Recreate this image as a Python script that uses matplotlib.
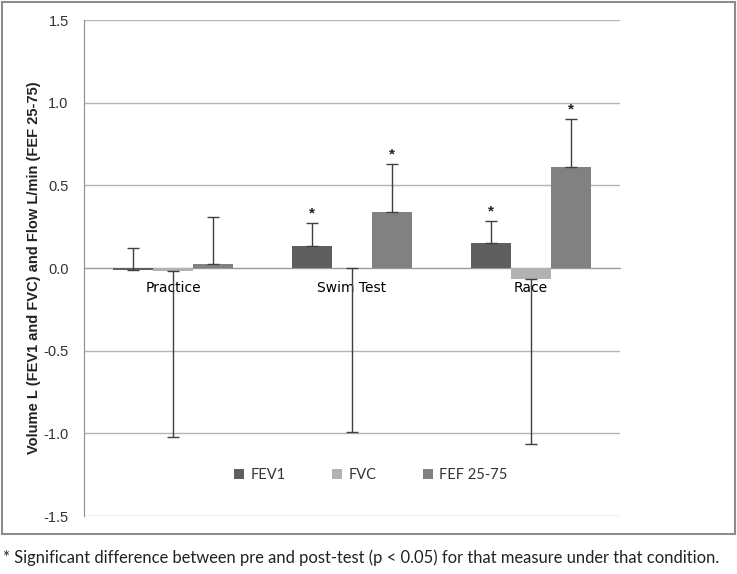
import matplotlib
matplotlib.use("Agg")
import matplotlib.pyplot as plt
import numpy as np
from matplotlib.patches import Rectangle

categories = ["Practice", "Swim Test", "Race"]
series_names = ["FEV1", "FVC", "FEF 25-75"]
fev1 = [-0.01, 0.135, 0.153]
fvc = [-0.02, 0.0, -0.065]
fef = [0.025, 0.34, 0.61]
fev1_err = [0.13, 0.135, 0.133]
fvc_err = [1.0, 0.99, 1.0]
fef_err = [0.285, 0.29, 0.29]
fev1_sig = [False, True, True]
fvc_sig = [False, False, False]
fef_sig = [False, True, True]
yticks = [-1.5, -1.0, -0.5, 0.0, 0.5, 1.0, 1.5]

colors = ["#5f5f5f", "#b2b2b2", "#818181"]
err_color = "#3f3f3f"

fig = plt.figure(figsize=(7.37, 5.74), dpi=100)
fig.patches.append(Rectangle((2/737, 1-534/574), 733/737, 532/574, transform=fig.transFigure,
                             fill=False, edgecolor="#8c8c8c", linewidth=1.5))
ax = fig.add_axes([84/737, 1-516/574, 536/737, 496/574])

x = np.arange(len(categories))
w = 0.224
vals = [fev1, fvc, fef]
errs = [fev1_err, fvc_err, fef_err]
sigs = [fev1_sig, fvc_sig, fef_sig]
directions = [1, -1, 1]
for i, (v, e, s, d, c, name) in enumerate(zip(vals, errs, sigs, directions, colors, series_names)):
    pos = x + (i - 1) * w
    ax.bar(pos, v, width=w, color=c, label=name, zorder=3)
    v = np.array(v); e = np.array(e)
    if d > 0:
        yerr = [np.zeros_like(e), e]
    else:
        yerr = [e, np.zeros_like(e)]
    ax.errorbar(pos, v, yerr=yerr, fmt="none", ecolor=err_color, elinewidth=1,
                capsize=4, capthick=1, zorder=4)
    for p, vv, ee, ss in zip(pos, v, e, s):
        if ss:
            ax.text(p, vv + ee + 0.015, "*", ha="center", va="bottom", fontsize=11,
                    fontweight="bold", fontfamily="Liberation Sans",
                    color="#222222", zorder=5)

ax.set_xlim(-0.5, 2.5)
ax.set_ylim(-1.5, 1.5)
ax.set_yticks(yticks)
ax.set_yticklabels([f"{t:.1f}" for t in yticks], fontfamily="Liberation Sans", fontsize=10.5, color="#333333")
ax.yaxis.grid(True, color="#b4b4b4", linewidth=1, zorder=0)
ax.set_axisbelow(True)
ax.tick_params(axis="y", length=0, pad=11)
ax.tick_params(axis="x", length=0, pad=9)
ax.set_xticks(x)
ax.set_xticklabels(categories, fontfamily="Lato", fontsize=11, color="#333333")
ax.spines["bottom"].set_position(("data", 0))
ax.spines["bottom"].set_color("#9a9a9a")
ax.spines["bottom"].set_zorder(2)
ax.spines["left"].set_color("#8c8c8c")
ax.spines["top"].set_visible(False)
ax.spines["right"].set_visible(False)

ax.set_ylabel("Volume L (FEV1 and FVC) and Flow L/min (FEF 25-75)", fontfamily="Liberation Sans",
              fontsize=10.5, fontweight="bold", color="#222222", labelpad=2)

leg = ax.legend(loc="center", bbox_to_anchor=(0.535, 0.083), ncol=3, frameon=False,
                handlelength=0.7, handleheight=0.7, columnspacing=3.2, handletextpad=0.4,
                prop={"family": "Lato", "size": 10.5})
for t in leg.get_texts():
    t.set_color("#333333")

fig.text(3/737, 1-558/574, "* Significant difference between pre and post-test (p < 0.05) for that measure under that condition.",
         fontfamily="Lato", fontsize=11.9, va="center", ha="left", color="#222222")

fig.savefig("out.png", dpi=100)
